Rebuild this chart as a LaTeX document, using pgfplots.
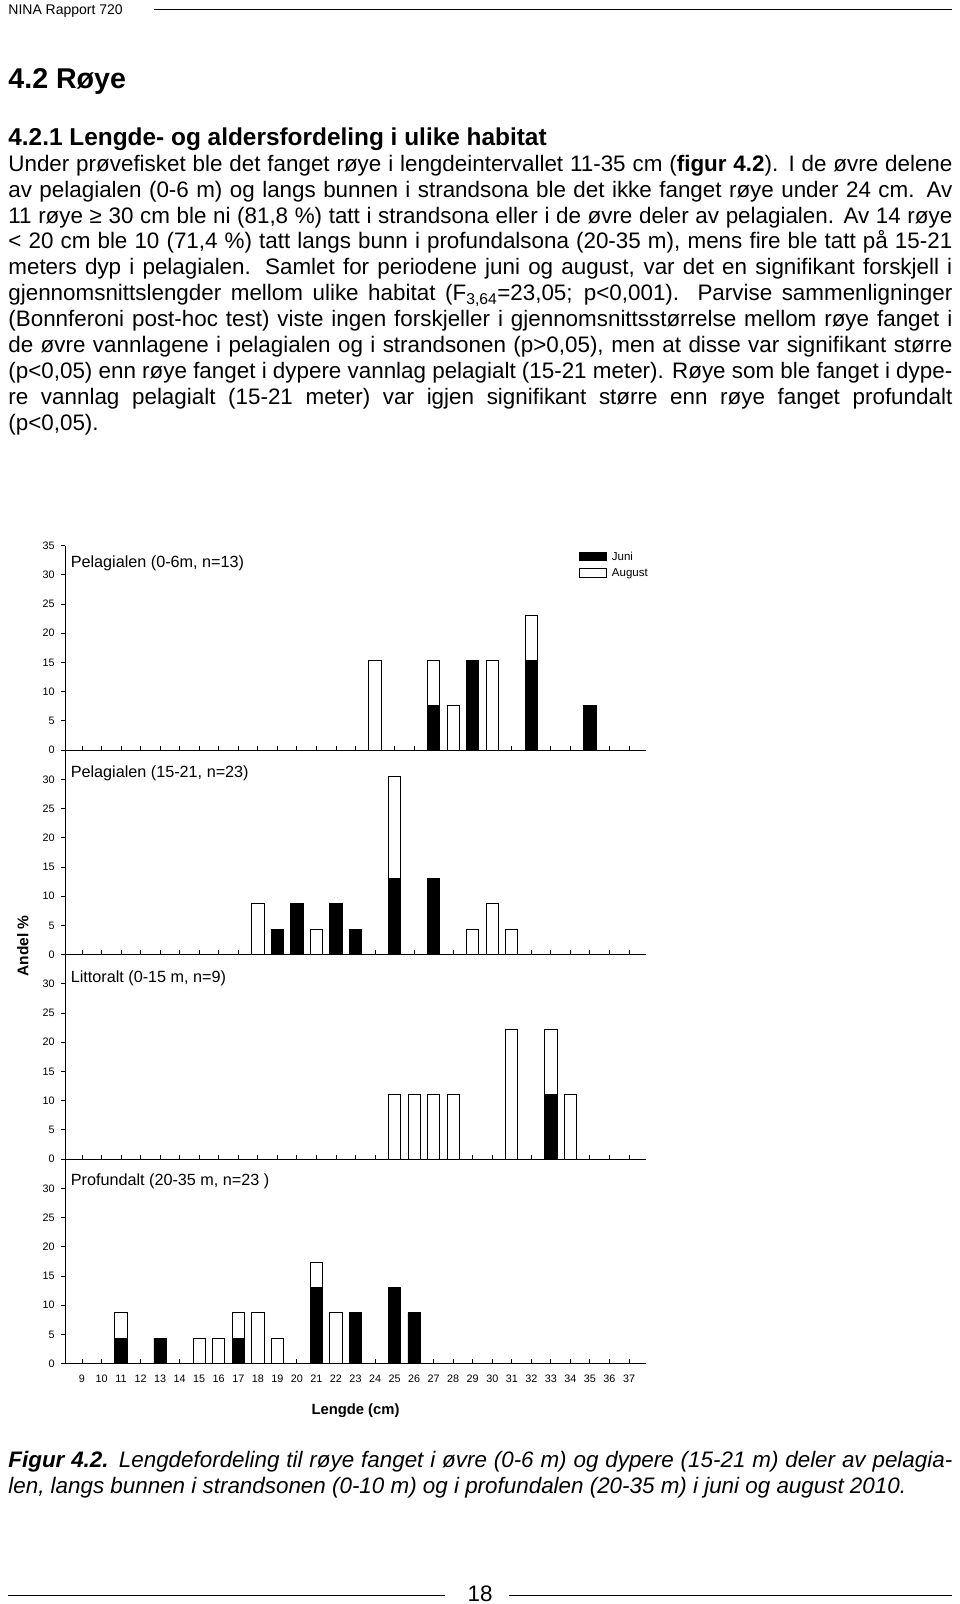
\documentclass[border=0pt]{standalone}
\usepackage{fontspec}
\setmainfont{Liberation Sans}
\usepackage{pgfplots}
\pgfplotsset{compat=1.18}
\pgfplotsset{
 panel/.style={
  scale only axis, width=581pt, height=204.5pt,
  xmin=8.13, xmax=37.87, ymin=0, ymax=35,
  axis x line=bottom, axis y line=left,
  axis line style={-, line width=0.9pt},
  every outer x axis line/.append style={-},
  every outer y axis line/.append style={-},
  xtick={9,...,37}, ytick={0,5,...,30},
  xtick align=inside, ytick align=outside,
  major tick length=4.4pt,
  tick style={black, line width=0.9pt},
  ticklabel style={font=\fontsize{10.8}{12}\selectfont},
  /pgf/number format/assume math mode=true,
  yticklabel style={xshift=-2.5pt},
  xticklabel style={yshift=-7.5pt},
  ybar stacked, bar width=12.3pt,
  clip=false,
 },
 juni/.style={draw=black, fill=black, line width=0.9pt},
 aug/.style={draw=black, fill=white, line width=0.9pt},
 lgimg/.style={legend image code/.code={\draw[draw=black, line width=0.9pt, ##1] (0pt,-3pt) rectangle (26.7pt,5.4pt);}},
}
\newcommand{\ptitle}{\fontsize{16.2}{18}\selectfont}
\newcommand{\bodyline}[2]{\node[anchor=base west, inner sep=0pt, font=\fontsize{22.4}{25.9}\selectfont] at (8.2pt,-#1pt) {\makebox[944pt][s]{#2}};}
\begin{document}
\begin{tikzpicture}
\path[use as bounding box] (0pt,0pt) rectangle (960pt,-1604pt);
% header
\node[anchor=base west, inner sep=0pt, font=\fontsize{14}{16}\selectfont] at (8.2pt,-14.2pt) {NINA Rapport 720};
\draw[line width=1pt] (153.5pt,-9.5pt) -- (952pt,-9.5pt);
\node[anchor=base west, inner sep=0pt, font=\bfseries\fontsize{28.6}{32}\selectfont] at (8.2pt,-88.5pt) {4.2 Røye};
\node[anchor=base west, inner sep=0pt, font=\bfseries\fontsize{24.4}{28}\selectfont] at (8.2pt,-145.4pt) {4.2.1 Lengde- og aldersfordeling i ulike habitat};
% body
\bodyline{171.2}{Under prøvefisket ble det fanget røye i lengdeintervallet 11-35 cm (\textbf{figur 4.2}). I de øvre delene}
\bodyline{197.1}{av pelagialen (0-6 m) og langs bunnen i strandsona ble det ikke fanget røye under 24 cm. Av}
\bodyline{223.0}{11 røye ≥ 30 cm ble ni (81,8 \%) tatt i strandsona eller i de øvre deler av pelagialen. Av 14 røye}
\bodyline{248.9}{< 20 cm ble 10 (71,4 \%) tatt langs bunn i profundalsona (20-35 m), mens fire ble tatt på 15-21}
\bodyline{274.8}{meters dyp i pelagialen. Samlet for periodene juni og august, var det en signifikant forskjell i}
\bodyline{300.7}{gjennomsnittslengder mellom ulike habitat (F\textsubscript{3,64}=23,05; p<0,001). Parvise sammenligninger}
\bodyline{326.6}{(Bonnferoni post-hoc test) viste ingen forskjeller i gjennomsnittsstørrelse mellom røye fanget i}
\bodyline{352.5}{de øvre vannlagene i pelagialen og i strandsonen (p>0,05), men at disse var signifikant større}
\bodyline{378.4}{(p<0,05) enn røye fanget i dypere vannlag pelagialt (15-21 meter). Røye som ble fanget i dype-}
\bodyline{404.3}{re vannlag pelagialt (15-21 meter) var igjen signifikant større enn røye fanget profundalt}
\node[anchor=base west, inner sep=0pt, font=\fontsize{22.4}{25.9}\selectfont] at (8.2pt,-430.2pt) {(p<0,05).};

% panel 1
\begin{axis}[panel, at={(65pt,-750.1pt)}, anchor=south west, ytick={0,5,...,35}, xticklabels={},
  legend style={at={(rel axis cs:0.8844,0.9694)}, anchor=north west, draw=none, fill=none,
    inner sep=0pt, outer sep=0pt, row sep=5.1pt, column sep=5.5pt,
    font=\fontsize{11.5}{12}\selectfont,
    nodes={inner sep=0pt, text height=8.2pt, text depth=2.4pt}},
  legend cell align=left, lgimg]
\addplot[juni, lgimg] coordinates {(24,0) (27,7.69) (28,0) (29,15.38) (30,0) (32,15.38) (35,7.69)};
\addplot[aug, lgimg] coordinates {(24,15.38) (27,7.69) (28,7.69) (29,0) (30,15.38) (32,7.69) (35,0)};
\legend{Juni,August}
\node[anchor=base west, inner sep=0pt, font=\ptitle, xshift=5.6pt, yshift=-21.4pt] at (rel axis cs:0,1) {Pelagialen (0-6m, n=13)};
\end{axis}

% panel 2
\begin{axis}[panel, at={(65pt,-954.6pt)}, anchor=south west, xticklabels={}]
\addplot[juni] coordinates {(18,0) (19,4.35) (20,8.70) (21,0) (22,8.70) (23,4.35) (25,13.04) (27,13.04) (29,0) (30,0) (31,0)};
\addplot[aug] coordinates {(18,8.70) (19,0) (20,0) (21,4.35) (22,0) (23,0) (25,17.39) (27,0) (29,4.35) (30,8.70) (31,4.35)};
\node[anchor=base west, inner sep=0pt, font=\ptitle, xshift=5.6pt, yshift=-26.9pt] at (rel axis cs:0,1) {Pelagialen (15-21, n=23)};
\end{axis}

% panel 3
\begin{axis}[panel, at={(65pt,-1159.1pt)}, anchor=south west, xticklabels={}]
\addplot[juni] coordinates {(25,0) (26,0) (27,0) (28,0) (31,0) (33,11.11) (34,0)};
\addplot[aug] coordinates {(25,11.11) (26,11.11) (27,11.11) (28,11.11) (31,22.22) (33,11.11) (34,11.11)};
\node[anchor=base west, inner sep=0pt, font=\ptitle, xshift=5.6pt, yshift=-27.6pt] at (rel axis cs:0,1) {Littoralt (0-15 m, n=9)};
\end{axis}

% panel 4
\begin{axis}[panel, at={(65pt,-1363.6pt)}, anchor=south west,
  xlabel={Lengde (cm)},
  xlabel style={font=\bfseries\fontsize{14.8}{16}\selectfont, at={(axis description cs:0.5,0)}, anchor=center, yshift=-47.5pt}]
\addplot[juni] coordinates {(11,4.35) (13,4.35) (15,0) (16,0) (17,4.35) (18,0) (19,0) (21,13.04) (22,0) (23,8.70) (25,13.04) (26,8.70)};
\addplot[aug] coordinates {(11,4.35) (13,0) (15,4.35) (16,4.35) (17,4.35) (18,8.70) (19,4.35) (21,4.35) (22,8.70) (23,0) (25,0) (26,0)};
\node[anchor=base west, inner sep=0pt, font=\ptitle, xshift=5.6pt, yshift=-25.9pt] at (rel axis cs:0,1) {Profundalt (20-35 m, n=23 )};
\end{axis}

\node[rotate=90, inner sep=0pt, font=\bfseries\fontsize{15.5}{17}\selectfont] at (22.8pt,-946pt) {Andel \%};

% caption
\node[anchor=base west, inner sep=0pt, font=\itshape\fontsize{22.4}{25.9}\selectfont] at (8.2pt,-1467pt) {\makebox[944pt][s]{\textbf{Figur 4.2.} Lengdefordeling til røye fanget i øvre (0-6 m) og dypere (15-21 m) deler av pelagia-}};
\node[anchor=base west, inner sep=0pt, font=\itshape\fontsize{22.4}{25.9}\selectfont] at (8.2pt,-1493.6pt) {len, langs bunnen i strandsonen (0-10 m) og i profundalen (20-35 m) i juni og august 2010.};
% footer
\node[anchor=base, inner sep=0pt, font=\fontsize{22.4}{25.9}\selectfont] at (480pt,-1601.5pt) {18};
\draw[line width=1pt] (8.2pt,-1595pt) -- (445pt,-1595pt);
\draw[line width=1pt] (508.7pt,-1595pt) -- (952pt,-1595pt);
\end{tikzpicture}
\end{document}
